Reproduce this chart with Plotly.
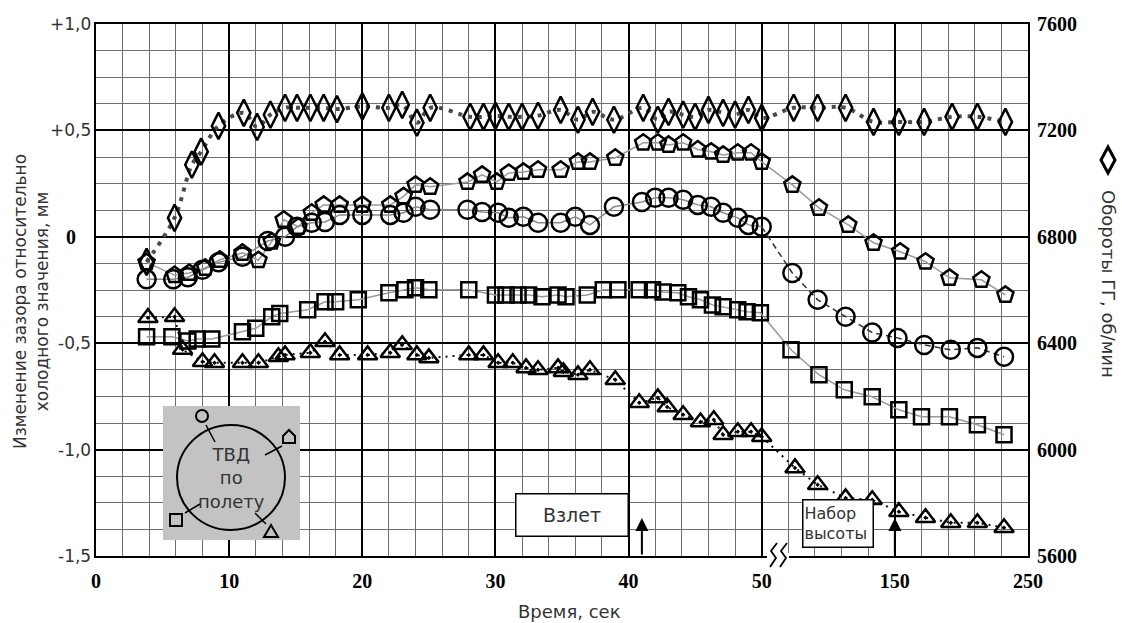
import numpy as np
import plotly.graph_objects as go

# ---------------- data (time in s, gap change in mm, rpm) ----------------
# diamonds: rotor speed, right axis (rpm)
d_t = [3.8, 5.9, 7.2, 7.9, 9.2, 11.1, 12.1, 13.1, 14.2, 15.1, 16.1, 17.1, 18.1, 20.0, 22.0, 23.0,
       24.1, 25.1, 28.1, 29.1, 30.0, 31.0, 32.0, 33.2, 34.9, 36.2, 37.3, 38.9, 41.1, 42.2, 43.0,
       44.1, 45.0, 46.0, 47.1, 48.0, 49.0, 50.0, 74, 92, 113, 134, 153, 172, 193, 212, 233]
d_rpm = [6706, 6871, 7071, 7120, 7217, 7266, 7213, 7259, 7285, 7285, 7285, 7285, 7280, 7290, 7285, 7296,
         7229, 7285, 7251, 7251, 7255, 7251, 7251, 7255, 7277, 7240, 7270, 7240, 7285, 7240, 7270,
         7259, 7251, 7277, 7266, 7259, 7277, 7247, 7285, 7285, 7285, 7232, 7232, 7232, 7251, 7251, 7232]

# houses (pentagon)
h_t = [3.8, 5.9, 7.0, 8.2, 9.3, 11.0, 12.2, 13.2, 14.1, 15.2, 16.2, 17.1, 18.3, 20.0, 22.1, 23.1,
       24.0, 25.1, 27.9, 29.0, 30.1, 31.0, 32.1, 33.2, 34.9, 36.2, 37.1, 39.0, 41.1, 42.2, 43.0,
       44.1, 45.2, 46.2, 47.1, 48.2, 49.2, 50.0, 73, 93, 115, 134, 154, 173, 191, 215, 233]
h_y = [-0.12, -0.18, -0.17, -0.146, -0.108, -0.075, -0.11, -0.023, 0.08, 0.047, 0.113, 0.15, 0.15, 0.15,
       0.15, 0.19, 0.244, 0.235, 0.258, 0.291, 0.258, 0.30, 0.305, 0.315, 0.315, 0.352, 0.352, 0.371,
       0.442, 0.442, 0.432, 0.442, 0.41, 0.40, 0.385, 0.395, 0.395, 0.352, 0.244, 0.136, 0.056, -0.028,
       -0.07, -0.117, -0.193, -0.202, -0.273]

# circles
c_t = [3.8, 5.8, 6.9, 8.0, 9.2, 11.0, 12.9, 14.2, 15.1, 16.2, 17.2, 18.3, 20.0, 22.1, 23.1, 24.0,
       25.1, 27.9, 29.0, 30.2, 31.0, 32.1, 33.2, 34.9, 36.0, 37.1, 38.9, 41.0, 42.0, 43.0, 44.1,
       45.2, 46.2, 47.1, 48.2, 49.0, 50.0, 73, 92, 113, 133, 152, 172, 192, 212, 232]
c_y = [-0.2, -0.2, -0.19, -0.155, -0.12, -0.094, -0.02, 0.0, 0.047, 0.066, 0.07, 0.103, 0.103, 0.103,
       0.113, 0.141, 0.127, 0.127, 0.117, 0.113, 0.089, 0.094, 0.066, 0.066, 0.094, 0.056, 0.141, 0.164,
       0.183, 0.183, 0.174, 0.15, 0.141, 0.113, 0.089, 0.056, 0.047, -0.17, -0.296, -0.376, -0.45,
       -0.475, -0.508, -0.531, -0.522, -0.564]

# squares
s_t = [3.8, 5.7, 6.9, 7.6, 8.7, 11.0, 12.0, 13.2, 13.8, 15.9, 17.2, 18.0, 19.7, 22.0, 23.2, 24.0,
       25.0, 28.0, 30.0, 30.8, 31.7, 32.5, 33.5, 34.7, 35.3, 36.9, 38.1, 39.2, 40.8, 41.8, 42.6,
       43.7, 44.5, 45.4, 46.3, 47.1, 48.2, 48.9, 49.9, 72, 93, 112, 133, 153, 170, 191, 212, 232]
s_y = [-0.47, -0.47, -0.49, -0.48, -0.48, -0.446, -0.43, -0.376, -0.36, -0.343, -0.305, -0.305,
       -0.296, -0.263, -0.249, -0.24, -0.249, -0.249, -0.273, -0.273, -0.273, -0.273, -0.282, -0.273,
       -0.282, -0.273, -0.249, -0.249, -0.249, -0.249, -0.259, -0.263, -0.282, -0.296, -0.32, -0.329,
       -0.343, -0.352, -0.357, -0.531, -0.648, -0.719, -0.752, -0.813, -0.846, -0.846, -0.883, -0.93]

# triangles
tr_t = [3.9, 5.9, 6.5, 8.0, 8.9, 11.0, 12.2, 13.7, 14.2, 16.1, 17.2, 18.3, 20.4, 22.1, 23.0, 24.1,
        25.0, 28.0, 29.1, 30.2, 31.3, 32.3, 33.2, 34.7, 35.1, 36.2, 37.1, 39.0, 40.8, 42.2, 42.9,
        44.1, 45.4, 46.4, 47.1, 48.2, 49.2, 50.0, 75, 92, 113, 133, 153, 173, 192, 212, 232]
tr_y = [-0.38, -0.376, -0.53, -0.587, -0.592, -0.592, -0.592, -0.564, -0.555, -0.545, -0.493, -0.555,
        -0.555, -0.545, -0.507, -0.555, -0.569, -0.555, -0.555, -0.592, -0.592, -0.616, -0.625, -0.616,
        -0.634, -0.648, -0.625, -0.672, -0.78, -0.757, -0.8, -0.836, -0.87, -0.86, -0.93, -0.916,
        -0.916, -0.94, -1.086, -1.165, -1.227, -1.236, -1.292, -1.32, -1.344, -1.344, -1.367]

x_tick_times = [0, 10, 20, 30, 40, 50, 150, 250]
x_tick_text = ['0', '10', '20', '30', '40', '50', '150', '250']
y_tick_vals = [1.0, 0.5, 0.0, -0.5, -1.0, -1.5]
y_tick_text = ['+1,0', '+0,5', '0', '-0,5', '-1,0', '-1,5']
rpm_ticks = [5600, 6000, 6400, 6800, 7200, 7600]
event_takeoff = 41.0
event_climb = 150.0


# broken time axis: 0..50 s linear, 50..250 s compressed 10x
def pos(t):
    t = np.asarray(t, dtype=float)
    return np.where(t <= 50, t, 50 + (t - 50) / 10.0)


W, H = 1122, 623
L, R, T, B = 96, 1028, 24, 556          # plot area in window pixels


def px(x):
    return (x - L) / (R - L)


def py(y):
    return (B - y) / (B - T)


fig = go.Figure()

# connecting lines (below all markers)
fig.add_trace(go.Scatter(x=pos(h_t), y=h_y, mode='lines', line=dict(color='#9a9a9a', width=1.5),
                         hoverinfo='skip', showlegend=False))
idx50 = [i for i, t in enumerate(c_t) if t >= 50][0]
fig.add_trace(go.Scatter(x=pos(c_t[:idx50 + 1]), y=c_y[:idx50 + 1], mode='lines',
                         line=dict(color='#8a8a8a', width=1.5), hoverinfo='skip', showlegend=False))
fig.add_trace(go.Scatter(x=pos(c_t[idx50:]), y=c_y[idx50:], mode='lines',
                         line=dict(color='#333333', width=1.5, dash='6px,4px'), hoverinfo='skip',
                         showlegend=False))
fig.add_trace(go.Scatter(x=pos(s_t), y=s_y, mode='lines', line=dict(color='#9a9a9a', width=1.5),
                         hoverinfo='skip', showlegend=False))
fig.add_trace(go.Scatter(x=pos(tr_t), y=tr_y, mode='lines',
                         line=dict(color='#111111', width=2, dash='2px,5px'), hoverinfo='skip',
                         showlegend=False))
fig.add_trace(go.Scatter(x=pos(d_t), y=d_rpm, yaxis='y2', mode='lines',
                         line=dict(color='#4a4a4a', width=4, dash='4px,6px', shape='spline',
                                   smoothing=1.0), hoverinfo='skip', showlegend=False))

mk = dict(color='black', line=dict(width=2.5, color='black'))
fig.add_trace(go.Scatter(x=pos(h_t), y=h_y, mode='markers', showlegend=False,
                         marker=dict(symbol='pentagon-open', size=17, **mk)))
fig.add_trace(go.Scatter(x=pos(c_t), y=c_y, mode='markers', showlegend=False,
                         marker=dict(symbol='circle-open', size=18, **mk)))
fig.add_trace(go.Scatter(x=pos(s_t), y=s_y, mode='markers', showlegend=False,
                         marker=dict(symbol='square-open', size=15, **mk)))
fig.add_trace(go.Scatter(x=pos(tr_t), y=tr_y, mode='markers', showlegend=False,
                         marker=dict(symbol='triangle-up-open-dot', size=17, **mk)))
fig.add_trace(go.Scatter(x=pos(d_t), y=d_rpm, yaxis='y2', mode='markers', showlegend=False,
                         marker=dict(symbol='diamond-tall-open', size=19, **mk)))

serif_bold = dict(family='Liberation Serif', size=20, color='black', weight='bold')
sans = 'DejaVu Sans'

fig.update_layout(
    width=W, height=H,
    margin=dict(l=L, r=W - R, t=T, b=H - B, autoexpand=False),
    paper_bgcolor='white', plot_bgcolor='white',
    showlegend=False,
    xaxis=dict(range=[0, 70], tickmode='array', tickvals=list(pos(x_tick_times)),
               ticktext=x_tick_text, tickfont=serif_bold, ticks='', ticklabelstandoff=6,
               showgrid=True, gridcolor='black', gridwidth=2,
               minor=dict(tickmode='linear', tick0=0, dtick=2, showgrid=True,
                          gridcolor='#6e6e6e', gridwidth=1),
               showline=True, linecolor='black', linewidth=2, mirror=True, zeroline=False),
    yaxis=dict(range=[-1.5, 1.0], tickmode='linear', tick0=-1.5, dtick=0.5, showticklabels=False,
               showgrid=True, gridcolor='black', gridwidth=2,
               minor=dict(tickmode='linear', tick0=-1.5, dtick=0.125, showgrid=True,
                          gridcolor='#6e6e6e', gridwidth=1),
               showline=True, linecolor='black', linewidth=2, mirror=True, zeroline=False),
    yaxis2=dict(range=[5600, 7600], overlaying='y', side='right', tickmode='array',
                tickvals=rpm_ticks, tickfont=serif_bold, ticks='', ticklabelstandoff=8,
                showgrid=False, zeroline=False, showline=False),
)


def pann(x, y, text, **kw):
    d = dict(x=px(x), y=py(y), xref='paper', yref='paper', text=text, showarrow=False,
             xanchor='center', yanchor='middle')
    d.update(kw)
    return d


annotations = []
# left tick labels
for v, txt in zip(y_tick_vals, y_tick_text):
    if txt == '0':
        annotations.append(dict(x=px(71), xref='paper', y=v, yref='y', text='0', showarrow=False,
                                xanchor='center', yanchor='middle', font=serif_bold))
    else:
        annotations.append(dict(x=px(93), xref='paper', y=v, yref='y', text=txt, showarrow=False,
                                xanchor='right', yanchor='middle',
                                font=dict(family=sans, size=17, color='#333333')))

# axis titles
annotations.append(pann(31, 302, 'Изменение зазора относительно<br>холодного значения, мм',
                        textangle=-90, font=dict(family=sans, size=17, color='#333333')))
annotations.append(pann(569, 611, 'Время, сек', font=dict(family=sans, size=18, color='#333333')))
annotations.append(pann(1109, 284, 'Обороты ГГ, об/мин', textangle=90,
                        font=dict(family=sans, size=18, color='#333333')))

# inset text
annotations.append(pann(231, 478, 'ТВД<br>по<br>полету', font=dict(family=sans, size=18, color='#333333')))

# event boxes
annotations.append(pann(571.5, 514.5, 'Взлет', width=109, height=39, bgcolor='white',
                        bordercolor='black', borderwidth=1.5, borderpad=1,
                        font=dict(family=sans, size=19, color='#333333')))
annotations.append(pann(837.5, 523, 'Набор<br>высоты', width=67, height=44, align='left',
                        bgcolor='white', bordercolor='black', borderwidth=1.5, borderpad=1,
                        font=dict(family=sans, size=16, color='#333333')))

# event arrows
for te in (event_takeoff, event_climb):
    annotations.append(dict(x=float(pos(te)), xref='x', y=py(518), yref='paper', ax=0, ay=38,
                            text='', showarrow=True, arrowhead=2, arrowsize=1.3, arrowwidth=2,
                            arrowcolor='black'))

fig.update_layout(annotations=annotations)

shapes = []
# inset
shapes.append(dict(type='rect', xref='paper', yref='paper', x0=px(163), x1=px(300), y0=py(540),
                   y1=py(406), fillcolor='#c3c3c3', line=dict(width=0), layer='above'))
shapes.append(dict(type='circle', xref='paper', yref='paper', x0=px(177), x1=px(285), y0=py(530),
                   y1=py(425), line=dict(color='black', width=2), layer='above'))


def path(points, close=False):
    s = 'M ' + ' L '.join(f'{px(a):.5f},{py(b):.5f}' for a, b in points)
    return s + (' Z' if close else '')


# small symbols of the inset and their pointer lines
shapes.append(dict(type='circle', xref='paper', yref='paper', x0=px(196), x1=px(208), y0=py(422),
                   y1=py(410), line=dict(color='black', width=2), layer='above'))
shapes.append(dict(type='path', xref='paper', yref='paper',
                   path=path([(283, 443), (295, 443), (295, 436), (289, 430), (283, 436)], True),
                   line=dict(color='black', width=2), layer='above'))
shapes.append(dict(type='rect', xref='paper', yref='paper', x0=px(170), x1=px(182), y0=py(526),
                   y1=py(514), line=dict(color='black', width=2), layer='above'))
shapes.append(dict(type='path', xref='paper', yref='paper',
                   path=path([(264, 537), (278, 537), (271, 525)], True),
                   line=dict(color='black', width=2), layer='above'))
for seg in [((206, 425), (215, 442)), ((282, 446), (265, 455)), ((185, 513), (200, 504)),
            ((266, 524), (255, 513))]:
    shapes.append(dict(type='path', xref='paper', yref='paper', path=path(list(seg)),
                       line=dict(color='black', width=1.5), layer='above'))

# axis break
shapes.append(dict(type='rect', xref='paper', yref='paper', x0=px(767), x1=px(789), y0=py(559),
                   y1=py(553), fillcolor='white', line=dict(width=0), layer='above'))
for x0 in (770, 780):
    shapes.append(dict(type='path', xref='paper', yref='paper',
                       path=path([(x0 + 7, 543), (x0 + 1, 551), (x0 + 6, 558), (x0, 567)]),
                       line=dict(color='black', width=1.8), layer='above'))

# right-axis title symbol
shapes.append(dict(type='path', xref='paper', yref='paper',
                   path=path([(1108, 147), (1115, 160), (1108, 173), (1101, 160)], True),
                   line=dict(color='black', width=3), layer='above'))

fig.update_layout(shapes=shapes)

# the page's default 8px body margin would shift the figure; remove it
fig.write_html('out.html', config={'displayModeBar': False},
               post_script="document.body.style.margin='0px';")
